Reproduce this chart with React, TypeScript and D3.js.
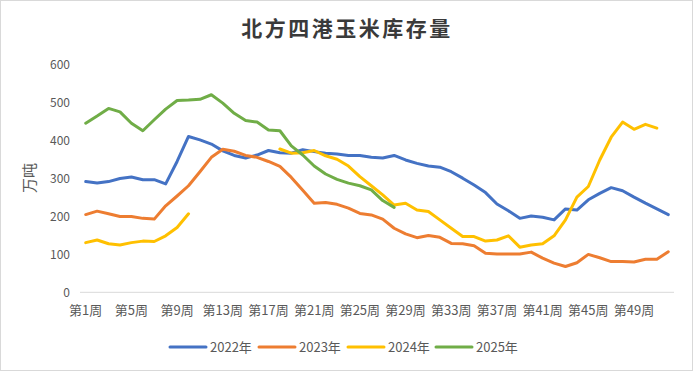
import React from "react";
import * as d3 from "d3";

// weeks 第1周 .. 第52周
const weeks = d3.range(1, 53).map(w => `第${w}周`);
const yTicks = [0, 100, 200, 300, 400, 500, 600];

const s2022 = [292, 288, 292, 300, 304, 297, 297, 286, 345, 411, 402, 391, 373, 361, 354, 362, 374, 368, 367, 376,
  371, 367, 365, 361, 361, 356, 354, 361, 349, 340, 333, 330, 318, 301, 283, 263, 233, 215, 195, 201,
  198, 191, 220, 217, 244, 261, 276, 268, 251, 235, 220, 205];
const s2023 = [205, 214, 207, 200, 200, 195, 193, 228, 254, 281, 318, 356, 377, 372, 361, 356, 345, 332, 303, 269,
  235, 237, 232, 222, 208, 204, 193, 169, 154, 144, 150, 145, 129, 128, 123, 103, 101, 101, 101, 106,
  90, 77, 68, 78, 100, 91, 81, 81, 80, 87, 87, 107];
const s2024 = [131, 138, 128, 125, 131, 135, 134, 149, 171, 207, null, null, null, null, null, null, null, 378, 367, 368,
  374, 360, 351, 333, 305, 281, 257, 230, 235, 217, 213, 191, 169, 147, 147, 135, 138, 149, 119, 125,
  128, 149, 191, 251, 279, 349, 409, 449, 430, 443, 433, null];
const s2025 = [446, 465, 485, 476, 446, 426, 455, 483, 506, 507, 509, 521, 499, 472, 453, 449, 428, 426, 386, 362,
  333, 312, 298, 288, 281, 270, 242, 224];

const seriesNames = ["2022年", "2023年", "2024年", "2025年"];
const seriesColors = ["#4472C4", "#ED7D31", "#FFC000", "#70AD47"];
const seriesData = [s2022, s2023, s2024, s2025];

const W = 694;
const H = 372;
const font = "'Noto Sans CJK SC', 'Noto Sans', sans-serif";

export default function App() {
  const x = d3.scaleBand<string>().domain(weeks).range([80, 674]).padding(0);
  const y = d3.scaleLinear().domain([0, 600]).range([292.3, 64.8]);
  const cx = (i: number) => (x(weeks[i]) as number) + x.bandwidth() / 2;

  const line = d3
    .line<number | null>()
    .defined(d => d != null)
    .x((_, i) => cx(i))
    .y(d => y(d as number));

  // legend layout
  const legendX = [170, 259, 348, 436];

  return (
    <svg width={W} height={H} style={{ position: "absolute", left: 0, top: 0, display: "block" }}
      fontFamily={font}>
      <rect x={0.5} y={0.5} width={W - 2} height={H - 2} fill="#fff" stroke="#d9d9d9" />
      <text x={347} y={36} textAnchor="middle" fontSize={21} letterSpacing={2.5} fontWeight="bold" fill="#3a3a3a">
        北方四港玉米库存量
      </text>

      {/* y axis labels */}
      {yTicks.map(t => (
        <text key={t} x={70} y={y(t)} dy="0.35em" textAnchor="end" fontSize={12} fill="#595959">
          {t}
        </text>
      ))}
      <text transform={`translate(30,178) rotate(-90)`} textAnchor="middle" dy="0.35em" fontSize={15} fill="#595959">
        万吨
      </text>

      {/* x axis */}
      <line x1={80} x2={674} y1={y(0)} y2={y(0)} stroke="#d9d9d9" strokeWidth={1} />
      {weeks.map((w, i) =>
        i % 4 === 0 ? (
          <text key={w} x={cx(i)} y={315} textAnchor="middle" fontSize={13} fill="#595959">
            {w}
          </text>
        ) : null
      )}

      {/* series */}
      {seriesData.map((d, k) => (
        <path key={k} d={line(d) || ""} fill="none" stroke={seriesColors[k]} strokeWidth={3}
          strokeLinejoin="round" strokeLinecap="round" />
      ))}

      {/* legend */}
      {seriesNames.map((n, k) => (
        <g key={n} transform={`translate(${legendX[k]},347)`}>
          <line x1={0} x2={36} y1={0} y2={0} stroke={seriesColors[k]} strokeWidth={3} strokeLinecap="round" />
          <text x={40} y={0} dy="0.35em" fontSize={13} fill="#595959">{n}</text>
        </g>
      ))}
    </svg>
  );
}
